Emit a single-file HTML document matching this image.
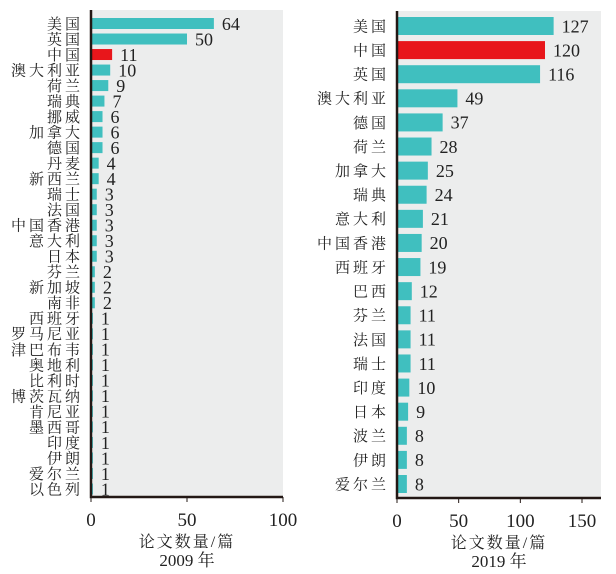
<!DOCTYPE html>
<html><head><meta charset="utf-8"><style>
body{margin:0;background:#fff}
svg{display:block;font-family:"Liberation Serif","Noto Serif CJK SC",serif}
</style></head><body>
<svg id="c" width="616" height="574"></svg>
<script>
const cats2009=["美国","英国","中国","澳大利亚","荷兰","瑞典","挪威","加拿大","德国","丹麦","新西兰","瑞士","法国","中国香港","意大利","日本","芬兰","新加坡","南非","西班牙","罗马尼亚","津巴布韦","奥地利","比利时","博茨瓦纳","肯尼亚","墨西哥","印度","伊朗","爱尔兰","以色列"];
const vals2009=[64,50,11,10,9,7,6,6,6,4,4,3,3,3,3,3,2,2,2,1,1,1,1,1,1,1,1,1,1,1,1];
const cats2019=["美国","中国","英国","澳大利亚","德国","荷兰","加拿大","瑞典","意大利","中国香港","西班牙","巴西","芬兰","法国","瑞士","印度","日本","波兰","伊朗","爱尔兰"];
const vals2019=[127,120,116,49,37,28,25,24,21,20,19,12,11,11,11,10,9,8,8,8];
const ticks2009=[0,50,100];
const ticks2019=[0,50,100,150];
const NS="http://www.w3.org/2000/svg";
const svg=document.getElementById('c');
function mk(tag,attrs,parent,text){const e=document.createElementNS(NS,tag);for(const k in attrs)e.setAttribute(k,attrs[k]);if(text!==undefined)e.textContent=text;(parent||svg).appendChild(e);return e;}
function panel(cfg){
  const {cats,vals,ticks,x0,x1,xmax,top,bottom,firstY,lastY,barH,lblSize,valSize,name,year}=cfg;
  const g=mk('g',{},svg);
  
  
  const xs=v=>x0+(v/xmax)*(x1-x0);
  const step=(lastY-firstY)/(cats.length-1);
  const ys=i=>firstY+i*step;
  const bg=mk('rect',{x:x0,y:top,width:x1-x0,height:bottom-top,fill:'#eceded'},g);
  
  
  cats.forEach((c,i)=>{
    const y=ys(i);
    const r=mk('rect',{x:x0,y:y-barH/2,width:xs(vals[i])-x0,height:barH,fill:c==='中国'?'#e8161b':'#40bfbf'},g);
    
    
    const l=mk('text',{x:x0-8,y:y+lblSize*0.36,'text-anchor':'end','font-size':lblSize,'letter-spacing':3,fill:'#222'},g,c);
    
    
    const v=mk('text',{x:xs(vals[i])+8,y:y+valSize*0.35,'font-size':valSize,fill:'#222'},g,vals[i]);
    
    
  });
  const ax=mk('path',{d:`M${x0},${top} V${bottom} H${x1}`,stroke:'#231815',fill:'none','stroke-width':2.5},g);
  
  
  ticks.forEach(t=>{
    const tk=mk('line',{x1:xs(t),x2:xs(t),y1:bottom,y2:bottom+5,stroke:'#231815','stroke-width':1},g);
    
    
    const tl=mk('text',{x:xs(t),y:bottom+29,'text-anchor':'middle','font-size':19,fill:'#222'},g,t);
    
    
  });
  const cx=(x0+x1)/2;
  const at=mk('text',{x:cx,y:bottom+50,'text-anchor':'middle','font-size':16,'letter-spacing':2,fill:'#222'},g,'论文数量/篇');
  
  
  const yt=mk('text',{x:cx,y:bottom+69,'text-anchor':'middle','font-size':17,fill:'#222'},g,year);
  
  
}
panel({cats:cats2009,vals:vals2009,ticks:ticks2009,x0:91,x1:283,xmax:100,top:10,bottom:497,firstY:23.5,lastY:489,barH:11,lblSize:15,valSize:18,name:'panel-2009',year:'2009 年'});
panel({cats:cats2019,vals:vals2019,ticks:ticks2019,x0:397,x1:601,xmax:(601-397)/((582-397)/150),top:11,bottom:498,firstY:26,lastY:484,barH:18,lblSize:15,valSize:18,name:'panel-2019',year:'2019 年'});
</script>
</body></html>
